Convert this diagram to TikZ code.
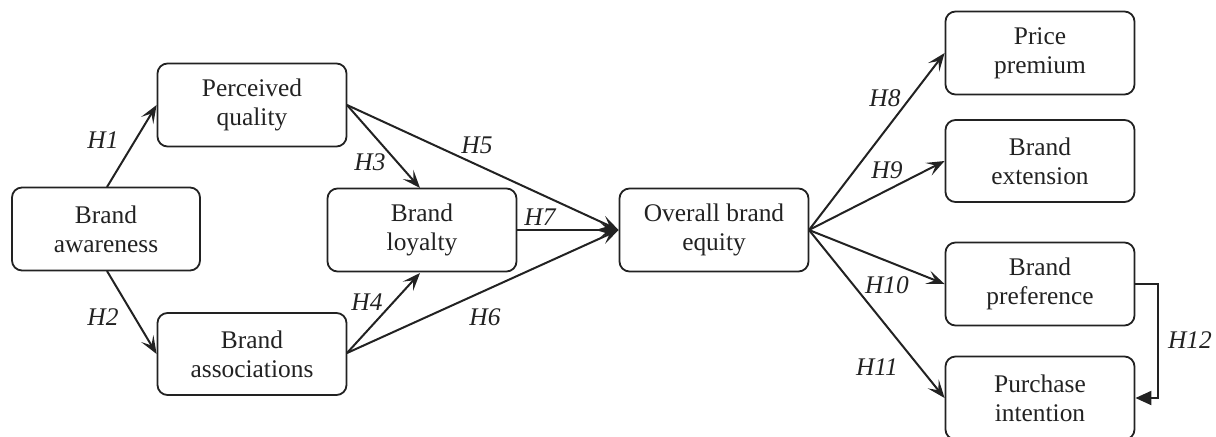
\documentclass[tikz,border=0pt]{standalone}
\usepackage{fontspec}
\setmainfont{Liberation Serif}
\usetikzlibrary{arrows.meta}
\definecolor{ink}{HTML}{222222}
\begin{document}
\begin{tikzpicture}[x=0.5pt,y=-0.5pt,
  box/.style={draw=ink, text=ink, line width=0.9pt, rounded corners=5pt, align=center,
    minimum width=94.5pt, minimum height=41.5pt, inner sep=0pt,
    font=\fontsize{12.7}{14.6}\selectfont},
  link/.style={draw=ink, line width=1pt, -{Stealth[length=9pt,width=7pt,inset=4pt]}},
  hyp/.style={text=ink, font=\fontsize{12.7}{15}\selectfont\itshape, inner sep=0pt}]
\useasboundingbox (0,0) rectangle (1216,436);

% constructs
\node[box, minimum width=94pt] (aw) at (106,229) {Brand\\awareness};
\node[box] (pq) at (252,105) {Perceived\\quality};
\node[box, minimum height=41pt] (ba) at (252,354) {Brand\\associations};
\node[box] (bl) at (422,230) {Brand\\loyalty};
\node[box] (oe) at (714,230) {Overall brand\\equity};
\node[box] (pp) at (1040,53) {Price\\premium};
\node[box, minimum height=41pt] (be) at (1040,161) {Brand\\extension};
\node[box] (bp) at (1040,284) {Brand\\preference};
\node[box] (pi) at (1040,398) {Purchase\\intention};

% anchor points on the box edges
\coordinate (awT) at (107,187);
\coordinate (awB) at (107,271);
\coordinate (pqR) at (347,105);
\coordinate (baR) at (347,353);
\coordinate (blT) at (420,188);
\coordinate (blB) at (420,273);
\coordinate (oeR) at (809,230);
\coordinate (h12a) at (1158,284);
\coordinate (h12b) at (1158,398);

% paths
\draw[link] (awT) -- (pq.west);
\draw[link] (awB) -- (ba.west);
\draw[link] (pqR) -- (blT);
\draw[link] (baR) -- (blB);
\draw[link] (pqR) -- (oe.west);
\draw[link] (baR) -- (oe.west);
\draw[link] (bl.east) -- (oe.west);
\draw[link] (oeR) -- (pp.west);
\draw[link] (oeR) -- (be.west);
\draw[link] (oeR) -- (bp.west);
\draw[link] (oeR) -- (pi.west);
\draw[draw=ink, line width=1pt, -{Triangle[length=8pt,width=7pt]}]
  (bp.east) -- (h12a) -- (h12b) -- (pi.east);

% hypothesis labels
\node[hyp] (l1) at (103,140) {H1};
\node[hyp] (l2) at (103,317) {H2};
\node[hyp] (l3) at (370,162) {H3};
\node[hyp] (l4) at (367,302) {H4};
\node[hyp] (l5) at (477,145) {H5};
\node[hyp] (l6) at (485,317) {H6};
\node[hyp] (l7) at (540,217) {H7};
\node[hyp] (l8) at (885,98) {H8};
\node[hyp] (l9) at (887,170) {H9};
\node[hyp] (l10) at (887,285) {H10};
\node[hyp] (l11) at (877,367) {H11};
\node[hyp] (l12) at (1190,340) {H12};
\end{tikzpicture}
\end{document}
